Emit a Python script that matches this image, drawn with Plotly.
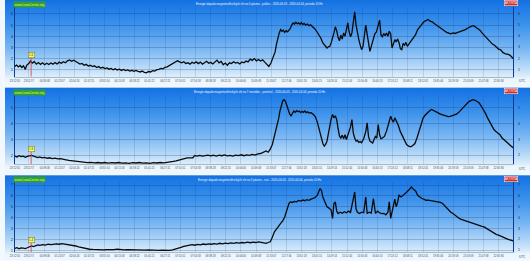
import base64
import plotly.graph_objects as go

# ---------------- data ----------------
x_labels = ["23:12:50", "23:52:57", "00:39:08", "01:22:07", "02:04:26", "02:47:25", "03:31:54",
            "04:15:03", "04:58:22", "05:41:22", "06:27:21", "07:10:51", "07:54:58", "08:38:28",
            "09:22:15", "10:06:00", "10:49:48", "11:33:47", "12:17:46", "13:01:18", "13:45:15",
            "14:29:14", "15:12:44", "15:56:43", "16:40:13", "17:24:12", "18:08:11", "18:52:41",
            "19:35:46", "20:19:59", "21:03:09", "21:47:08", "22:30:36"]

titles = [
    "Energie dopadů magnetosférických vln na 0 pásmo - pokles - 2020-04-03 - 2020-04-04, perioda 10 Hz",
    "Energie dopadů magnetosférických vln na 7 meridián - pozitivní - 2020-04-03 - 2020-04-04, perioda 10 Hz",
    "Energie dopadů magnetosférických vln na 3 pásmo - růst - 2020-04-03 - 2020-04-04, perioda 10 Hz",
]
site_label = "www.LunaCentre.org"
badge_label = "AKTIVITA"
marker_labels = ["1.6", "1.9", "1.4"]
marker_minute = 47

# minutes after 23:12:50, values
p1_t = [0, 5, 10, 15, 20, 25, 30, 34, 40, 45, 50, 56, 62, 68, 74, 80, 86, 92, 98, 104, 110, 116, 122, 128,
        134, 140, 146, 152, 158, 164, 170, 176, 182, 188, 194, 200, 206, 212, 218, 224, 230, 236, 242, 248,
        254, 260, 266, 272, 278, 284, 290, 296, 302, 308, 314, 320, 326, 332, 338, 344, 350, 356, 362, 368,
        374, 380, 386, 392, 398, 404, 410, 416, 422, 428, 434, 440, 446, 452, 458, 464, 470, 476, 482, 488,
        494, 500, 506, 512, 518, 524, 530, 536, 542, 548, 554, 560, 566, 572, 578, 584, 590, 596, 602, 608,
        614, 620, 626, 632, 638, 644, 650, 656, 662, 668, 674, 680, 686, 692, 698, 704, 710, 716, 722, 728,
        734, 740, 746, 752, 756, 760, 764, 768, 772, 776, 780, 784, 788, 792, 796, 800, 804, 808, 812, 816,
        820, 824, 828, 832, 836, 840, 845, 850, 855, 860, 866, 872, 878, 884, 890, 896, 902, 906, 910, 914,
        918, 922, 926, 930, 934, 938, 942, 946, 950, 954, 958, 962, 966, 970, 974, 978, 982, 986, 990, 994,
        998, 1002, 1006, 1010, 1014, 1018, 1022, 1026, 1030, 1034, 1040, 1045, 1050, 1054, 1058, 1062, 1066,
        1070, 1074, 1078, 1082, 1086, 1090, 1094, 1098, 1102, 1106, 1110, 1114, 1118, 1122, 1126, 1130, 1134,
        1140, 1146, 1152, 1158, 1164, 1170, 1176, 1182, 1188, 1194, 1200, 1206, 1212, 1218, 1224, 1230, 1236,
        1242, 1248, 1254, 1260, 1266, 1272, 1278, 1284, 1290, 1296, 1302, 1308, 1314, 1320, 1326, 1332, 1338,
        1344, 1350, 1356, 1362, 1368, 1374, 1380, 1386, 1392, 1398, 1404, 1410, 1416, 1422, 1428, 1434, 1440]
p1_v = [1.30, 1.42, 1.25, 1.38, 1.20, 1.35, 1.02, 1.40, 1.55, 1.78, 1.60, 1.72, 1.50, 1.65, 1.48, 1.62,
        1.45, 1.58, 1.47, 1.60, 1.50, 1.64, 1.52, 1.68, 1.58, 1.72, 1.62, 1.80, 1.88, 1.75, 1.85, 1.70,
        1.62, 1.50, 1.56, 1.40, 1.48, 1.33, 1.40, 1.28, 1.35, 1.20, 1.28, 1.15, 1.22, 1.10, 1.16, 1.05,
        1.12, 1.00, 1.08, 0.98, 1.05, 0.94, 1.02, 0.92, 0.98, 0.88, 0.95, 0.85, 0.93, 0.86, 0.80, 0.88,
        0.76, 0.72, 0.84, 0.80, 0.92, 0.88, 1.00, 1.04, 1.12, 1.08, 1.22, 1.26, 1.38, 1.45, 1.58, 1.66,
        1.80, 1.70, 1.62, 1.72, 1.55, 1.62, 1.50, 1.66, 1.58, 1.70, 1.55, 1.68, 1.50, 1.62, 1.76, 1.58,
        1.66, 1.52, 1.70, 1.86, 1.62, 1.74, 1.45, 1.60, 1.40, 1.62, 1.55, 1.72, 1.60, 1.66, 1.52, 1.70,
        1.62, 1.78, 1.70, 1.95, 1.84, 2.00, 1.80, 1.92, 1.78, 1.88, 1.68, 1.45, 1.30, 1.60, 2.05, 2.60,
        3.30, 3.95, 4.30, 4.60, 4.45, 4.55, 4.35, 4.50, 4.40, 4.55, 4.70, 5.00, 5.20, 5.10, 5.25, 5.12,
        5.20, 5.08, 5.22, 5.05, 5.15, 5.00, 5.10, 4.95, 5.02, 4.85, 4.70, 4.45, 4.20, 3.85, 3.40, 3.20,
        2.95, 3.05, 3.10, 3.40, 3.80, 4.30, 4.85, 4.50, 3.90, 3.60, 4.10, 3.75, 4.30, 4.00, 4.60, 5.20,
        4.40, 3.95, 4.30, 5.10, 6.20, 5.00, 4.20, 3.70, 3.20, 2.80, 3.10, 4.10, 5.00, 4.20, 3.30, 2.65,
        3.10, 3.60, 4.20, 4.40, 5.00, 5.45, 4.10, 3.95, 4.25, 4.05, 4.30, 4.00, 4.45, 4.20, 2.95, 3.40,
        3.70, 3.50, 3.75, 3.45, 2.90, 2.80, 3.35, 3.20, 3.45, 3.10, 3.35, 3.55, 3.85, 4.15, 4.60, 4.85,
        5.15, 5.30, 5.40, 5.50, 5.35, 5.30, 5.15, 5.00, 4.90, 4.72, 4.60, 4.48, 4.35, 4.28, 4.22, 4.30,
        4.25, 4.32, 4.38, 4.45, 4.50, 4.60, 4.72, 4.85, 4.90, 4.95, 4.80, 4.70, 4.55, 4.30, 4.10, 3.85,
        3.70, 3.45, 3.30, 3.20, 3.00, 2.85, 2.78, 2.55, 2.45, 2.40, 2.35, 2.20, 2.00]

p2_t = [0, 6, 12, 18, 24, 30, 36, 42, 48, 54, 60, 66, 72, 78, 86, 94, 100, 108, 116, 124, 132, 140, 148,
        156, 164, 172, 180, 190, 200, 210, 220, 230, 240, 250, 260, 270, 280, 290, 300, 310, 320, 330, 340,
        350, 360, 370, 380, 390, 400, 410, 420, 430, 440, 450, 458, 466, 474, 482, 490, 498, 506, 514, 520,
        526, 534, 542, 550, 558, 566, 574, 582, 590, 598, 606, 614, 622, 630, 638, 646, 654, 662, 670, 678,
        686, 694, 702, 710, 718, 726, 732, 738, 744, 750, 756, 762, 766, 770, 774, 778, 782, 786, 790, 794,
        798, 802, 806, 810, 814, 818, 822, 826, 830, 834, 838, 842, 846, 850, 856, 862, 868, 874, 878, 884,
        890, 894, 898, 902, 906, 910, 914, 918, 922, 926, 930, 934, 938, 942, 946, 950, 954, 958, 962, 966,
        970, 974, 978, 982, 986, 990, 994, 998, 1002, 1008, 1014, 1018, 1022, 1026, 1030, 1034, 1038, 1042,
        1046, 1050, 1054, 1058, 1062, 1068, 1074, 1080, 1086, 1090, 1094, 1098, 1102, 1108, 1114, 1120,
        1126, 1132, 1138, 1144, 1150, 1156, 1162, 1168, 1174, 1180, 1186, 1192, 1198, 1204, 1210, 1216,
        1222, 1228, 1234, 1240, 1246, 1252, 1258, 1264, 1270, 1276, 1282, 1288, 1294, 1300, 1306, 1312,
        1318, 1324, 1330, 1336, 1342, 1348, 1354, 1360, 1366, 1372, 1378, 1384, 1390, 1396, 1402, 1408,
        1414, 1420, 1426, 1432, 1440]
p2_v = [1.96, 1.90, 1.98, 1.92, 1.95, 1.88, 1.94, 1.97, 2.00, 1.95, 1.92, 1.86, 1.90, 1.84, 1.88, 1.82,
        1.85, 1.80, 1.83, 1.78, 1.80, 1.74, 1.72, 1.68, 1.66, 1.62, 1.60, 1.57, 1.58, 1.54, 1.56, 1.53,
        1.55, 1.52, 1.55, 1.51, 1.54, 1.52, 1.55, 1.51, 1.53, 1.50, 1.54, 1.52, 1.55, 1.51, 1.53, 1.50,
        1.54, 1.52, 1.55, 1.53, 1.56, 1.58, 1.62, 1.66, 1.72, 1.78, 1.80, 1.84, 1.86, 1.85, 2.00, 1.96,
        2.00, 1.95, 1.98, 2.02, 1.97, 2.01, 1.96, 2.02, 1.98, 2.03, 1.97, 2.00, 1.96, 2.02, 1.99, 2.04,
        1.98, 2.03, 2.00, 2.06, 2.02, 2.10, 2.12, 2.20, 2.28, 2.20, 2.40, 2.69, 3.20, 3.80, 4.30, 4.80,
        5.20, 5.45, 5.52, 5.40, 5.15, 4.85, 4.62, 4.50, 4.68, 4.80, 4.72, 4.82, 4.75, 4.80, 4.70, 4.78,
        4.72, 4.80, 4.70, 4.75, 4.68, 4.70, 4.60, 4.45, 4.10, 3.74, 3.20, 2.75, 2.59, 2.70, 2.90, 3.40,
        3.95, 4.30, 4.58, 4.37, 4.50, 4.26, 3.70, 3.21, 3.10, 3.28, 3.05, 3.30, 3.00, 3.25, 3.42, 3.80,
        4.26, 3.40, 3.10, 2.90, 2.95, 2.82, 2.88, 2.80, 3.05, 3.50, 4.05, 3.20, 2.90, 2.82, 2.78, 3.00,
        3.20, 3.10, 3.95, 3.30, 3.05, 3.10, 3.20, 3.53, 4.05, 4.47, 4.25, 4.10, 4.37, 4.20, 3.90, 3.50,
        3.21, 2.90, 2.69, 2.58, 2.54, 2.62, 2.75, 3.10, 3.53, 3.95, 4.37, 4.55, 4.69, 4.80, 4.90, 4.85,
        4.79, 4.70, 4.62, 4.58, 4.50, 4.47, 4.45, 4.47, 4.50, 4.55, 4.60, 4.70, 4.85, 5.00, 5.15, 5.31,
        5.40, 5.46, 5.52, 5.48, 5.38, 5.31, 5.10, 4.90, 4.65, 4.37, 4.10, 3.84, 3.65, 3.50, 3.40, 3.30,
        3.10, 3.00, 2.85, 2.75, 2.62, 2.48]

p3_t = [0, 6, 12, 18, 24, 30, 36, 42, 48, 54, 60, 66, 72, 80, 88, 96, 104, 112, 120, 128, 136, 144, 152,
        160, 168, 176, 184, 192, 200, 208, 216, 226, 236, 246, 256, 266, 276, 286, 296, 306, 316, 326, 336,
        346, 356, 366, 376, 386, 396, 406, 416, 426, 436, 446, 456, 464, 472, 480, 488, 496, 504, 512, 520,
        528, 536, 544, 552, 560, 568, 576, 584, 592, 600, 608, 616, 624, 632, 640, 648, 656, 664, 672, 680,
        688, 696, 704, 712, 720, 726, 732, 738, 744, 750, 756, 762, 768, 774, 780, 784, 788, 792, 796, 802,
        808, 814, 820, 826, 832, 838, 844, 850, 856, 862, 868, 874, 878, 882, 886, 890, 896, 902, 908, 914,
        918, 922, 926, 930, 934, 940, 946, 952, 958, 964, 970, 976, 982, 986, 990, 996, 1002, 1008, 1014,
        1018, 1024, 1030, 1036, 1042, 1048, 1054, 1060, 1066, 1072, 1078, 1082, 1086, 1090, 1094, 1098,
        1102, 1106, 1110, 1116, 1122, 1128, 1134, 1140, 1146, 1152, 1158, 1164, 1170, 1176, 1182, 1188,
        1194, 1200, 1206, 1212, 1218, 1224, 1230, 1236, 1242, 1248, 1254, 1260, 1266, 1272, 1278, 1284,
        1290, 1296, 1302, 1308, 1314, 1320, 1326, 1332, 1338, 1344, 1350, 1356, 1362, 1368, 1374, 1380,
        1386, 1392, 1398, 1404, 1410, 1416, 1422, 1428, 1434, 1440]
p3_v = [1.18, 1.25, 1.15, 1.22, 1.20, 1.16, 1.24, 1.30, 1.40, 1.35, 1.45, 1.50, 1.46, 1.52, 1.48, 1.56,
        1.52, 1.58, 1.60, 1.56, 1.62, 1.58, 1.55, 1.50, 1.45, 1.40, 1.32, 1.26, 1.20, 1.15, 1.10, 1.08,
        1.06, 1.09, 1.05, 1.07, 1.04, 1.06, 1.12, 1.06, 1.04, 1.07, 1.05, 1.06, 1.03, 1.05, 1.02, 1.04,
        1.00, 1.02, 0.99, 1.02, 0.98, 1.00, 1.04, 1.10, 1.18, 1.28, 1.37, 1.44, 1.48, 1.52, 1.47, 1.55,
        1.50, 1.58, 1.54, 1.60, 1.56, 1.62, 1.58, 1.65, 1.60, 1.66, 1.62, 1.68, 1.64, 1.70, 1.66, 1.72,
        1.68, 1.75, 1.70, 1.76, 1.72, 1.78, 1.74, 1.70, 1.64, 1.72, 1.79, 2.20, 2.70, 2.95, 3.16, 3.47,
        3.70, 4.08, 4.50, 5.00, 5.30, 5.45, 5.40, 5.50, 5.45, 5.58, 5.52, 5.62, 5.56, 5.66, 5.60, 5.70,
        5.76, 5.85, 6.06, 6.40, 6.67, 6.50, 5.90, 5.45, 5.00, 4.88, 4.70, 3.93, 5.30, 5.45, 4.60, 4.38,
        4.50, 4.40, 4.55, 4.45, 4.60, 4.48, 5.45, 6.36, 4.80, 4.50, 4.38, 4.50, 4.45, 5.90, 4.40, 4.50,
        4.42, 5.76, 4.40, 4.60, 4.45, 4.38, 4.40, 4.26, 4.50, 5.45, 3.93, 4.60, 5.00, 5.70, 5.00, 5.40,
        6.06, 5.90, 6.05, 6.20, 6.40, 6.60, 6.82, 6.60, 6.45, 6.06, 5.90, 5.76, 5.70, 5.60, 5.62, 5.58,
        5.55, 5.52, 5.50, 5.45, 5.40, 5.30, 5.10, 4.84, 4.65, 4.50, 4.38, 4.20, 4.05, 3.93, 3.85, 3.78,
        3.74, 3.70, 3.62, 3.55, 3.45, 3.38, 3.31, 3.25, 3.20, 3.16, 3.05, 2.90, 2.75, 2.65, 2.55, 2.45,
        2.40, 2.30, 2.20, 2.10, 2.05, 1.98, 1.92, 1.88]

y_ticks = [[1, 2, 3, 4, 5, 6], [2, 3, 4, 5], [1, 2, 3, 4, 5, 6, 7]]
marker_levels = [2.29, 2.38, 1.94]

# ---------------- layout geometry (pixels) ----------------
W, H = 530, 261
PL, PR = 10, 513
PITCH = 88
TOP, BOT = 7, 77
y_ranges = [[0.375, 6.625], [1.434, 5.836], [0.845, 7.25]]
FONT = "Liberation Sans, Arial, sans-serif"


def to_min(s):
    h, m, sec = map(int, s.split(":"))
    t = h * 60 + m + sec / 60.0
    t0 = 23 * 60 + 12 + 50 / 60.0
    d = t - t0
    return d if d >= 0 else d + 1440


tickvals = [to_min(s) for s in x_labels]

# gradient background as an SVG image
stops = [(0.0, "#1570df"), (0.08, "#1e7be6"), (0.3, "#3f94ec"), (0.55, "#78b6f3"),
         (0.78, "#bcdcf8"), (0.875, "#ddeefb"), (0.9, "#ebf5fd"), (1.0, "#f2f8fe")]
stop_xml = "".join(f'<stop offset="{o}" stop-color="{c}"/>' for o, c in stops)
rects = "".join(f'<rect x="0" y="{k * PITCH}" width="{W}" height="{PITCH}" fill="url(#g)"/>' for k in range(3))
svg = (f'<svg xmlns="http://www.w3.org/2000/svg" width="{W}" height="{H}" viewBox="0 0 {W} {H}" '
       f'preserveAspectRatio="none"><defs><linearGradient id="g" x1="0" y1="0" x2="0" y2="1">'
       f'{stop_xml}</linearGradient></defs>{rects}</svg>')
bg_src = "data:image/svg+xml;base64," + base64.b64encode(svg.encode("utf-8")).decode("ascii")

fig = go.Figure()
series = [(p1_t, p1_v), (p2_t, p2_v), (p3_t, p3_v)]
annotations = []
shapes = []
layout = {}
for i, (t, v) in enumerate(series):
    sfx = "" if i == 0 else str(i + 1)
    fig.add_trace(go.Scatter(x=t, y=v, mode="lines", line=dict(color="#0a0a0a", width=1.3),
                             xaxis="x" + sfx, yaxis="y" + sfx, showlegend=False, hoverinfo="skip"))
    off = i * PITCH
    top_px, bot_px = off + TOP, off + BOT
    ydom = [1 - bot_px / H, 1 - top_px / H]
    layout["xaxis" + sfx] = dict(domain=[PL / W, PR / W], range=[0, 1440], anchor="y" + sfx,
                                 tickvals=tickvals, ticktext=x_labels, tickangle=0,
                                 tickfont=dict(size=2.6, color="#3a4a5a", family=FONT),
                                 showgrid=True, gridcolor="rgba(20,50,110,0.14)", gridwidth=1,
                                 showline=True, linecolor="#a8b8c8", linewidth=1,
                                 ticks="outside", ticklen=1, tickcolor="rgba(0,0,0,0)",
                                 zeroline=False, fixedrange=True)
    layout["yaxis" + sfx] = dict(domain=ydom, range=y_ranges[i], anchor="x" + sfx,
                                 tickvals=y_ticks[i], ticktext=[str(k) for k in y_ticks[i]],
                                 tickfont=dict(size=4, color="#1a2a4a", family=FONT),
                                 showgrid=True, gridcolor="rgba(10,30,90,0.22)", gridwidth=1,
                                 showline=True, mirror=True, linecolor="#0b3c8c", linewidth=1,
                                 ticks="", zeroline=False, fixedrange=True)
    # right-side tick labels
    for k in y_ticks[i]:
        annotations.append(dict(x=(PR + 3) / W, xref="paper", y=k, yref="y" + sfx, text=str(k),
                                showarrow=False, xanchor="left", yanchor="middle",
                                font=dict(size=3.5, color="#1a2a4a", family=FONT)))
    # title
    annotations.append(dict(x=257 / W, xref="paper", y=1 - (off + 4.5) / H, yref="paper",
                            text=titles[i], showarrow=False, xanchor="center", yanchor="middle",
                            font=dict(size=2.8, color="#eef6ff", family=FONT)))
    # site label
    annotations.append(dict(x=8 / W, xref="paper", y=1 - (off + 4.5) / H, yref="paper",
                            text=site_label, showarrow=False, xanchor="left", yanchor="middle",
                            bgcolor="#2f9e35", borderpad=0.6,
                            font=dict(size=3.2, color="#e6ff5a", family=FONT)))
    # badge
    annotations.append(dict(x=511 / W, xref="paper", y=1 - (off + 3.5) / H, yref="paper",
                            text=badge_label, showarrow=False, xanchor="center", yanchor="middle",
                            bgcolor="#d42a2a", bordercolor="#ffffff", borderwidth=0.5, borderpad=0.5,
                            font=dict(size=2.8, color="#ffffff", family=FONT)))
    # UTC
    annotations.append(dict(x=522 / W, xref="paper", y=1 - (off + 81.5) / H, yref="paper",
                            text="UTC", showarrow=False, xanchor="center", yanchor="middle",
                            font=dict(size=3, color="#334455", family=FONT)))
    # marker
    shapes.append(dict(type="line", xref="x" + sfx, yref="y" + sfx, x0=marker_minute, x1=marker_minute,
                       y0=y_ranges[i][0], y1=marker_levels[i] - 0.2 * (1 if i != 1 else 0.7),
                       line=dict(color="#e23a3a", width=0.8)))
    annotations.append(dict(x=marker_minute, xref="x" + sfx, y=marker_levels[i], yref="y" + sfx,
                            text=marker_labels[i], showarrow=False, xanchor="center", yanchor="middle",
                            bgcolor="#fbff6a", bordercolor="#6a6a30", borderwidth=0.5, borderpad=0.6,
                            font=dict(size=3, color="#222222", family=FONT)))

fig.update_layout(
    width=W, height=H, margin=dict(l=0, r=0, t=0, b=0),
    paper_bgcolor="#f2f8fe", plot_bgcolor="rgba(0,0,0,0)",
    showlegend=False, annotations=annotations, shapes=shapes,
    images=[dict(source=bg_src, xref="paper", yref="paper", x=0, y=1, sizex=1, sizey=1,
                 xanchor="left", yanchor="top", sizing="stretch", layer="below")],
    **layout,
)
fig.write_html("out.html")
